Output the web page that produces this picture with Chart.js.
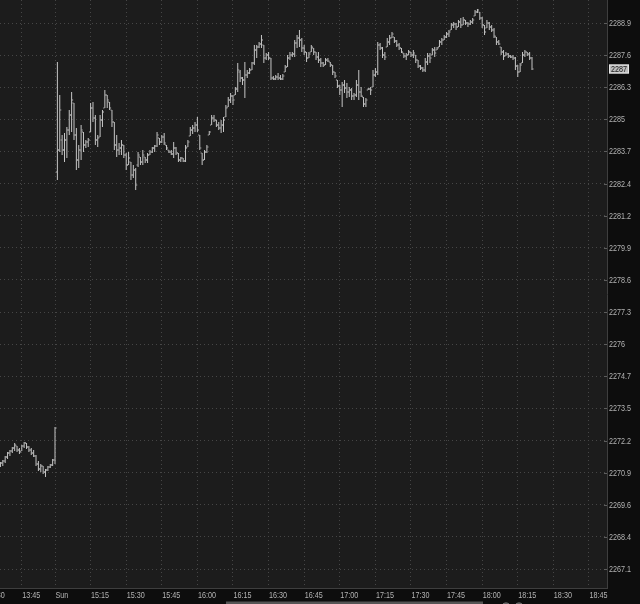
<!DOCTYPE html>
<html><head><meta charset="utf-8">
<script src="https://cdn.jsdelivr.net/npm/chart.js@4"></script>
<style>html,body{margin:0;padding:0;background:#0d0d0d;}canvas{display:block;}</style>
</head><body>
<canvas id="c" width="640" height="604"></canvas>
<script>
// ---- time axis (minute index; Sun 15:00 = 0, Friday session before it) ----
const xTickMinutes = [-29, -14, 0, 15, 30, 45, 60, 75, 90, 105, 120, 135, 150, 165, 180, 195, 210, 225];
const xTickLabels  = ['13:30','13:45','Sun','15:15','15:30','15:45','16:00','16:15','16:30','16:45','17:00','17:15','17:30','17:45','18:00','18:15','18:30','18:45'];
const yTickLabels  = ['2267.1','2268.4','2269.6','2270.9','2272.2','2273.5','2274.7','2276','2277.3','2278.6','2279.9','2281.2','2282.4','2283.7','2285','2286.3','2287.6','2288.9'];

// ---- Friday bars (1-minute), first bar minute index ----
const friStart = -23;
const friOpen  = [2271.16,2271.28,2271.36,2271.52,2271.68,2271.76,2271.88,2271.96,2271.80,2271.76,2271.96,2272.08,2271.92,2271.80,2271.68,2271.56,2271.24,2271.04,2271.16,2270.92,2271.00,2271.12,2271.20,2271.40];
const friHigh  = [2271.32,2271.40,2271.56,2271.72,2271.80,2271.92,2272.08,2271.96,2271.88,2272.00,2272.12,2272.08,2271.96,2271.88,2271.80,2271.60,2271.36,2271.24,2271.16,2271.04,2271.16,2271.24,2271.44,2272.72];
const friLow   = [2271.12,2271.16,2271.28,2271.44,2271.56,2271.68,2271.76,2271.72,2271.64,2271.76,2271.88,2271.84,2271.72,2271.60,2271.52,2271.16,2270.96,2270.92,2270.84,2270.72,2270.96,2271.08,2271.16,2271.24];
const friClose = [2271.28,2271.36,2271.52,2271.68,2271.76,2271.88,2272.00,2271.80,2271.72,2271.96,2272.08,2271.92,2271.80,2271.68,2271.56,2271.24,2271.04,2271.16,2270.92,2271.00,2271.12,2271.20,2271.40,2272.68];

// ---- Sunday bars (1-minute) ----
const sunStart = 1;
const sunOpen = [
2282.92,2283.80,2284.20,2283.80,2284.20,2284.60,2285.20,2285.68,2284.40,2283.40,
2283.80,2284.52,2284.00,2284.12,2284.52,2285.48,2285.08,2284.20,2284.32,2285.00,
2285.48,2286.00,2285.72,2285.40,2284.92,2284.00,2283.80,2283.88,2284.00,2283.60,
2283.20,2283.32,2282.80,2283.00,2283.20,2283.52,2283.32,2283.52,2283.40,2283.60,
2283.72,2283.88,2283.96,2284.28,2284.12,2284.32,2284.00,2283.80,2283.72,2283.64,
2283.88,2283.68,2283.40,2283.48,2283.36,2283.92,2284.36,2284.60,2284.68,2284.80,
2284.40,2283.68,2283.40,2283.72,2284.40,2284.80,2285.08,2285.00,2284.80,2284.68,
2284.80,2285.12,2285.52,2285.80,2285.96,2286.00,2286.24,2286.92,2286.68,2286.60,
2286.80,2286.88,2287.00,2287.28,2287.80,2287.92,2288.04,2288.00,2287.48,2287.60,
2287.48,2286.68,2286.64,2286.72,2286.68,2286.64,2286.92,2287.12,2287.48,2287.60,
2287.64,2288.08,2288.28,2288.20,2287.88,2287.72,2287.48,2287.72,2287.88,2287.72,
2287.52,2287.40,2287.28,2287.20,2287.40,2287.32,2287.20,2286.92,2286.60,2286.36,
2286.20,2286.40,2286.28,2286.12,2286.20,2285.96,2286.00,2286.40,2286.12,2285.92,
2285.64,2286.20,2286.24,2286.32,2286.80,2286.92,2288.00,2287.88,2287.60,2287.92,
2288.12,2288.28,2288.32,2288.16,2288.00,2287.88,2287.68,2287.56,2287.60,2287.72,
2287.60,2287.60,2287.40,2287.16,2287.08,2287.00,2287.32,2287.56,2287.60,2287.80,
2287.80,2287.92,2288.12,2288.20,2288.32,2288.44,2288.60,2288.80,2288.84,2288.72,
2288.92,2288.80,2289.00,2288.88,2288.84,2288.92,2289.16,2289.32,2289.32,2289.08,
2288.80,2288.68,2288.88,2288.72,2288.60,2288.32,2288.12,2287.92,2287.72,2287.56,
2287.64,2287.56,2287.52,2287.48,2287.16,2286.92,2287.28,2287.60,2287.72,2287.64,
2287.48];
const sunHigh = [
2287.32,2286.00,2284.40,2284.48,2284.72,2285.40,2286.12,2285.68,2284.68,2284.00,
2284.80,2284.52,2284.20,2284.28,2285.68,2285.72,2285.20,2284.40,2285.20,2285.40,
2286.20,2286.00,2285.72,2285.40,2284.92,2284.40,2284.08,2284.20,2284.00,2283.68,
2283.72,2283.32,2283.20,2283.08,2283.72,2283.52,2283.80,2283.52,2283.68,2283.80,
2283.92,2284.00,2284.52,2284.28,2284.40,2284.48,2284.00,2283.80,2283.80,2284.12,
2283.92,2283.68,2283.52,2283.48,2284.00,2284.20,2284.72,2284.80,2284.92,2285.12,
2284.40,2283.68,2283.80,2284.00,2284.56,2285.20,2285.20,2285.00,2284.92,2285.00,
2285.12,2285.60,2285.92,2286.08,2286.00,2286.32,2287.28,2287.00,2286.72,2287.32,
2287.00,2287.08,2287.32,2288.00,2288.00,2288.12,2288.40,2288.00,2287.68,2287.72,
2287.48,2286.76,2286.80,2286.88,2286.80,2286.84,2287.20,2287.60,2287.72,2287.72,
2288.20,2288.40,2288.60,2288.28,2288.00,2287.72,2287.72,2288.00,2287.88,2287.72,
2287.72,2287.48,2287.32,2287.48,2287.48,2287.32,2287.20,2286.92,2286.60,2286.40,
2286.52,2286.60,2286.48,2286.32,2286.28,2286.08,2286.60,2287.00,2286.32,2285.92,
2285.88,2286.28,2286.32,2287.00,2287.08,2288.12,2288.08,2287.92,2287.72,2288.28,
2288.40,2288.52,2288.32,2288.20,2288.08,2287.88,2287.68,2287.68,2287.80,2287.72,
2287.80,2287.60,2287.40,2287.20,2287.12,2287.48,2287.68,2287.68,2287.88,2287.92,
2287.92,2288.20,2288.28,2288.40,2288.52,2288.60,2288.88,2288.92,2288.88,2289.00,
2289.08,2289.12,2289.00,2288.92,2289.00,2289.08,2289.40,2289.44,2289.32,2289.12,
2288.80,2289.00,2288.92,2288.80,2288.68,2288.32,2288.20,2287.92,2287.80,2287.72,
2287.68,2287.60,2287.60,2287.52,2287.20,2287.28,2287.72,2287.80,2287.72,2287.72,
2287.52];
const sunLow = [
2282.60,2283.72,2283.60,2283.32,2283.48,2284.40,2284.52,2284.20,2283.00,2283.08,
2283.40,2283.72,2283.88,2283.92,2284.52,2284.92,2284.00,2283.92,2284.32,2284.72,
2285.48,2285.48,2285.40,2284.72,2283.80,2283.52,2283.60,2283.60,2283.48,2283.00,
2283.20,2282.60,2282.68,2282.20,2283.12,2283.20,2283.20,2283.28,2283.28,2283.60,
2283.68,2283.72,2283.92,2284.00,2284.08,2284.00,2283.80,2283.68,2283.60,2283.48,
2283.60,2283.32,2283.32,2283.32,2283.32,2283.92,2284.36,2284.44,2284.52,2284.52,
2283.80,2283.20,2283.40,2283.68,2284.40,2284.80,2284.92,2284.72,2284.60,2284.48,
2284.52,2285.12,2285.52,2285.68,2285.60,2286.00,2286.12,2286.52,2286.40,2285.88,
2286.68,2286.84,2287.00,2287.20,2287.48,2287.88,2287.88,2287.28,2287.40,2287.40,
2286.60,2286.60,2286.60,2286.60,2286.60,2286.60,2286.92,2287.12,2287.40,2287.52,
2287.52,2287.88,2287.92,2287.72,2287.60,2287.32,2287.48,2287.72,2287.60,2287.40,
2287.28,2287.12,2287.12,2287.20,2287.32,2287.12,2286.80,2286.68,2286.28,2286.00,
2285.52,2286.08,2285.88,2285.92,2285.80,2285.80,2285.92,2285.80,2285.92,2285.52,
2285.52,2286.20,2286.00,2286.32,2286.72,2286.80,2287.80,2287.48,2287.40,2287.92,
2288.00,2288.28,2288.08,2287.92,2287.80,2287.68,2287.48,2287.40,2287.60,2287.52,
2287.48,2287.28,2287.08,2287.00,2286.92,2286.92,2287.20,2287.28,2287.60,2287.52,
2287.80,2287.92,2288.00,2288.20,2288.28,2288.32,2288.60,2288.68,2288.60,2288.72,
2288.68,2288.80,2288.80,2288.72,2288.80,2288.84,2289.16,2289.28,2289.00,2288.68,
2288.40,2288.68,2288.60,2288.52,2288.28,2288.00,2288.00,2287.60,2287.40,2287.56,
2287.48,2287.48,2287.40,2287.00,2286.72,2286.92,2287.28,2287.52,2287.56,2287.40,
2287.00];
const sunClose = [
2283.80,2285.40,2283.80,2284.20,2284.60,2285.20,2285.80,2284.40,2283.40,2283.80,
2284.60,2284.00,2284.12,2284.20,2285.48,2285.08,2284.20,2284.28,2285.00,2285.32,
2286.00,2285.80,2285.48,2284.92,2284.00,2283.80,2283.88,2284.00,2283.60,2283.20,
2283.48,2282.80,2283.00,2282.40,2283.60,2283.32,2283.60,2283.40,2283.60,2283.72,
2283.88,2283.96,2284.40,2284.12,2284.32,2284.08,2283.88,2283.72,2283.64,2283.88,
2283.68,2283.40,2283.48,2283.36,2283.88,2284.12,2284.60,2284.68,2284.80,2284.60,
2283.88,2283.40,2283.72,2283.92,2284.52,2285.08,2285.00,2284.80,2284.68,2284.80,
2285.00,2285.48,2285.80,2285.96,2285.80,2286.24,2287.00,2286.68,2286.60,2286.80,
2286.88,2287.00,2287.28,2287.80,2287.92,2288.04,2288.20,2287.48,2287.60,2287.48,
2286.68,2286.64,2286.72,2286.68,2286.64,2286.76,2287.12,2287.48,2287.60,2287.64,
2288.08,2288.28,2288.20,2287.88,2287.72,2287.48,2287.64,2287.92,2287.72,2287.52,
2287.40,2287.28,2287.20,2287.40,2287.36,2287.20,2286.92,2286.76,2286.36,2286.20,
2286.40,2286.28,2286.12,2286.20,2285.96,2286.00,2286.40,2286.12,2285.96,2285.64,
2285.80,2286.24,2286.20,2286.80,2286.92,2288.00,2287.88,2287.60,2287.52,2288.12,
2288.28,2288.44,2288.16,2288.00,2287.88,2287.72,2287.56,2287.60,2287.72,2287.60,
2287.68,2287.40,2287.16,2287.08,2287.00,2287.32,2287.56,2287.48,2287.80,2287.68,
2287.88,2288.12,2288.20,2288.32,2288.44,2288.52,2288.80,2288.84,2288.72,2288.92,
2288.80,2289.00,2288.88,2288.84,2288.92,2289.00,2289.32,2289.40,2289.08,2288.80,
2288.52,2288.88,2288.72,2288.60,2288.36,2288.12,2288.04,2287.72,2287.56,2287.64,
2287.56,2287.52,2287.48,2287.16,2286.92,2287.20,2287.60,2287.72,2287.64,2287.48,
2287.04];

// ---- layout / style constants ----
const FONT = '"Liberation Sans", Arial, sans-serif';
const FONT_SIZE = 9;
const SQUEEZE = 0.8;   // narrow-font look
const X_MIN = -23.18, X_MAX = 232.6;
const Y_MAX = 2289.8, Y_MIN = 2266.28;
const Y_TICK_LO = 2267.04, Y_TICK_HI = 2288.88;
const BAR_COLOR = '#c6c6c6';
const TEXT_COLOR = '#b4b4b4';
const GRID_COLOR = '#464646';

function buildBars(start, lows, highs) {
  return lows.map((l, i) => ({ x: start + i, y: [l, highs[i]] }));
}
const bars = buildBars(friStart, friLow, friHigh).concat(buildBars(sunStart, sunLow, sunHigh));
const barX = bars.map(b => b.x);
const opens = friOpen.concat(sunOpen);
const closes = friClose.concat(sunClose);

function narrowText(ctx, txt, x, y) {
  ctx.save();
  ctx.translate(x, y);
  ctx.scale(SQUEEZE, 1);
  ctx.fillText(txt, 0, 0);
  ctx.restore();
}

const bgPlugin = {
  id: 'bg',
  beforeDraw(chart) {
    const { ctx, chartArea: a } = chart;
    ctx.save();
    ctx.fillStyle = '#0d0d0d';
    ctx.fillRect(0, 0, chart.width, chart.height);
    ctx.fillStyle = '#1c1c1c';
    ctx.fillRect(a.left, a.top, a.right - a.left, a.bottom - a.top);
    ctx.restore();
  }
};

const ohlcTicks = {
  id: 'ohlcTicks',
  afterDatasetsDraw(chart) {
    const { ctx, chartArea: a } = chart;
    const xs = chart.scales.x, ys = chart.scales.y;
    ctx.save();
    ctx.beginPath();
    ctx.rect(a.left, a.top, a.right - a.left, a.bottom - a.top);
    ctx.clip();
    ctx.fillStyle = BAR_COLOR;
    for (let i = 0; i < barX.length; i++) {
      const px = xs.getPixelForValue(barX[i]);
      const yo = ys.getPixelForValue(opens[i]);
      const yc = ys.getPixelForValue(closes[i]);
      ctx.fillRect(px - 1.5, yo - 0.5, 1, 1);
      ctx.fillRect(px + 0.5, yc - 0.5, 1, 1);
    }
    ctx.restore();
  }
};

const decor = {
  id: 'decor',
  afterDraw(chart) {
    const { ctx, chartArea: a } = chart;
    const xs = chart.scales.x, ys = chart.scales.y;
    ctx.save();
    ctx.font = FONT_SIZE + 'px ' + FONT;
    ctx.fillStyle = TEXT_COLOR;
    ctx.textAlign = 'left';
    ctx.textBaseline = 'middle';
    // time labels, left-aligned at their tick
    xTickMinutes.forEach((m, i) => {
      narrowText(ctx, xTickLabels[i], xs.getPixelForValue(m) + 0.5, 596);
    });
    // price labels
    ys.ticks.forEach((t, i) => {
      narrowText(ctx, yTickLabels[i], a.right + 2, ys.getPixelForValue(t.value) + 0.5);
    });
    // small tick dashes on price axis
    ctx.fillStyle = '#5e5e5e';
    ys.ticks.forEach(t => {
      const py = Math.round(ys.getPixelForValue(t.value));
      ctx.fillRect(a.right - 3, py, 3, 1);
    });
    // last price bubble
    const last = closes[closes.length - 1];
    const py = Math.round(ys.getPixelForValue(last));
    const txt = String(Math.round(last * 4) / 4);
    const w = ctx.measureText(txt).width * SQUEEZE + 4;
    ctx.fillStyle = '#bdbdbd';
    ctx.fillRect(a.right + 2, py - 4.5, w, 9);
    ctx.strokeStyle = '#e8e8e8';
    ctx.lineWidth = 1;
    ctx.strokeRect(a.right + 2.5, py - 4, w - 1, 8);
    ctx.fillStyle = '#1a1a1a';
    narrowText(ctx, txt, a.right + 4, py + 0.5);
    // bottom scrollbar and icons
    ctx.fillStyle = '#555555';
    ctx.fillRect(226, 601.5, 257, 2.5);
    ctx.strokeStyle = '#9a9a9a';
    ctx.beginPath(); ctx.arc(506, 607.5, 4.5, 0, Math.PI * 2); ctx.stroke();
    ctx.beginPath(); ctx.arc(519, 607.5, 4.5, 0, Math.PI * 2); ctx.stroke();
    ctx.restore();
  }
};

new Chart(document.getElementById('c'), {
  type: 'bar',
  data: {
    datasets: [{
      data: bars,
      backgroundColor: BAR_COLOR,
      borderWidth: 0,
      borderSkipped: false,
      barThickness: 1,
      inflateAmount: 0
    }]
  },
  options: {
    responsive: false,
    animation: false,
    events: [],
    layout: { padding: 0 },
    plugins: { legend: { display: false }, tooltip: { enabled: false } },
    scales: {
      x: {
        type: 'linear', min: X_MIN, max: X_MAX, offset: false,
        afterBuildTicks: s => { s.ticks = xTickMinutes.filter(v => v >= s.min && v <= s.max).map(v => ({ value: v })); },
        afterFit: s => { s.height = 16; s.paddingLeft = 0; s.paddingRight = 0; s.paddingTop = 0; s.paddingBottom = 0; },
        ticks: { display: false, autoSkip: false },
        grid: { offset: false, color: GRID_COLOR, lineWidth: 1, drawTicks: false },
        border: { display: true, color: '#3e3e3e', width: 1, dash: [1, 3] }
      },
      y: {
        type: 'linear', position: 'right', min: Y_MIN, max: Y_MAX, beginAtZero: false,
        afterBuildTicks: s => {
          const n = yTickLabels.length;
          s.ticks = yTickLabels.map((l, i) => ({ value: Y_TICK_LO + i * (Y_TICK_HI - Y_TICK_LO) / (n - 1) }));
        },
        afterFit: s => { s.width = 33; s.paddingTop = 0; s.paddingBottom = 0; s.paddingLeft = 0; s.paddingRight = 0; },
        ticks: { display: false, autoSkip: false, callback: (v, i) => yTickLabels[i] },
        grid: { color: GRID_COLOR, lineWidth: 1, drawTicks: false },
        border: { display: true, color: '#3e3e3e', width: 1, dash: [1, 3] }
      }
    }
  },
  plugins: [bgPlugin, ohlcTicks, decor]
});
</script>
</body></html>
